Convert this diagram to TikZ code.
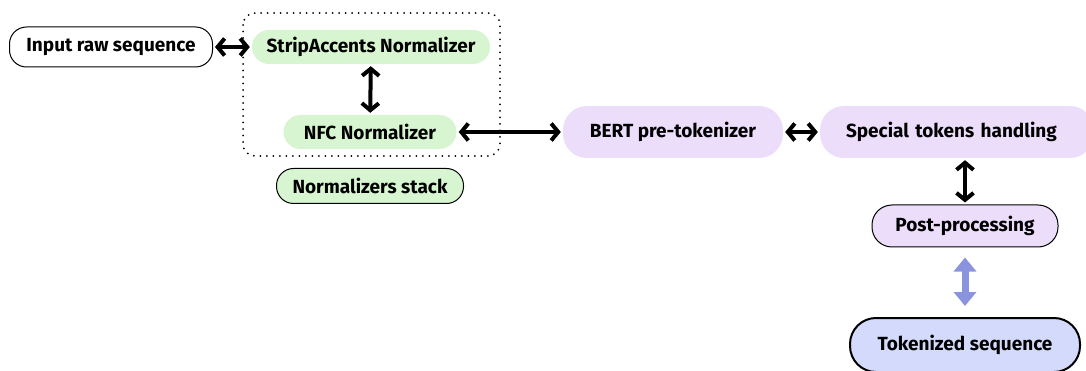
\documentclass[tikz,border=0pt]{standalone}
\usepackage{fontspec}
\setmainfont{Fira Sans}
\usetikzlibrary{arrows.meta}

\definecolor{normgreen}{HTML}{D6F5D0}
\definecolor{toklilac}{HTML}{ECDDFB}
\definecolor{seqblue}{HTML}{D3DAFB}
\definecolor{linkblue}{HTML}{8A93DD}

\tikzset{
  pill/.style={rounded corners=17pt, inner sep=0pt, text=black},
  dbl/.style={{Straight Barb[length=7pt,width=17pt,line width=4pt]}-{Straight Barb[length=7pt,width=17pt,line width=4pt]},
    line width=4pt, shorten <=2pt, shorten >=2pt},
}

\begin{document}
\begin{tikzpicture}[x=1pt,y=-1pt,font=\bfseries\fontsize{19}{23}\selectfont]
    \clip (0,0) rectangle (1086,371);
    \useasboundingbox (0,0) rectangle (1086,371);

    % normalizers
    \node[pill, draw, line width=1pt, fill=white, minimum width=203pt, minimum height=40pt] (raw) at (111,47) {Input raw sequence};
    \node[pill, fill=normgreen, minimum width=238pt, minimum height=34pt] (strip) at (371,47) {StripAccents Normalizer};
    \node[pill, fill=normgreen, minimum width=173pt, minimum height=34pt] (nfc) at (370,132) {NFC Normalizer};
    \draw[line width=2pt, line cap=round, dash pattern=on 0pt off 6.5pt, rounded corners=12pt]
      (243,13) rectangle (500,156);
    \node[pill, draw, line width=1pt, fill=normgreen, minimum width=187pt, minimum height=35pt] (stack) at (370,186) {Normalizers stack};

    % tokenizer
    \node[pill, rounded corners=24pt, fill=toklilac, minimum width=220pt, minimum height=52pt] (bert) at (673,132) {BERT pre-tokenizer};
    \node[pill, rounded corners=24pt, fill=toklilac, minimum width=274pt, minimum height=52pt, text width=250pt, align=left] (special) at (957,132) {\hspace*{14pt}Special tokens handling};
    \node[pill, rounded corners=20pt, draw, line width=1pt, fill=toklilac, minimum width=186pt, minimum height=42pt] (post) at (965,226) {Post-processing};
    \node[pill, rounded corners=26pt, draw, line width=2pt, fill=seqblue, minimum width=230pt, minimum height=54pt] (tok) at (965,345) {Tokenized sequence};

    \path[dbl]
      (raw) edge (strip)
      (strip) edge (nfc)
      (nfc) edge (bert)
      (bert) edge (special);
    \draw[dbl] (post.north) -- (post.north |- special.south);
    \draw[{Triangle[length=14pt,width=22pt]}-{Triangle[length=14pt,width=22pt]}, line width=7pt, linkblue,
      shorten <=10pt, shorten >=11pt] (post) -- (tok);
\end{tikzpicture}
\end{document}
